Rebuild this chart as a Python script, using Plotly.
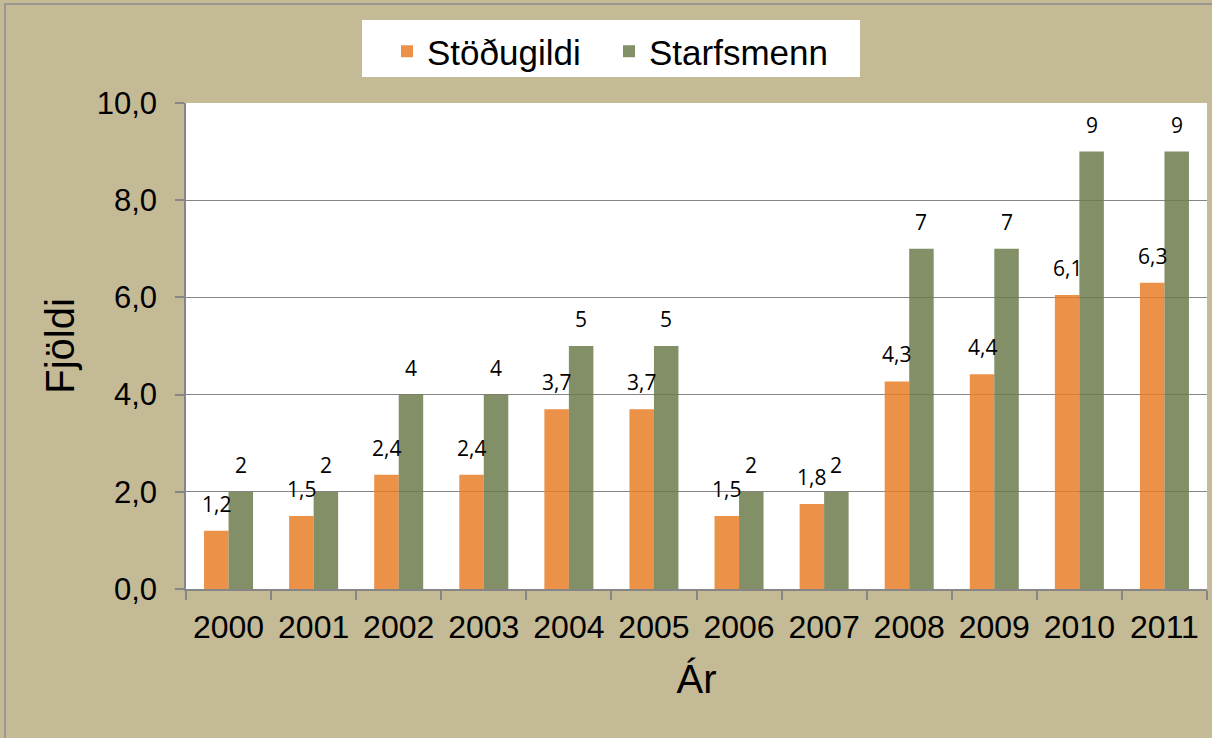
import plotly.graph_objects as go
from decimal import Decimal, ROUND_HALF_UP

# ---- data ----
years = ["2000", "2001", "2002", "2003", "2004", "2005",
         "2006", "2007", "2008", "2009", "2010", "2011"]
stodugildi = [1.2, 1.5, 2.35, 2.35, 3.7, 3.7, 1.5, 1.75, 4.27, 4.42, 6.05, 6.3]
starfsmenn = [2, 2, 4, 4, 5, 5, 2, 2, 7, 7, 9, 9]
y_ticks = [0, 2, 4, 6, 8, 10]

# ---- layout constants ----
W, H = 1212, 738
ML, MR, MT, MB = 186, 5, 103, 149
BARGAP = 0.424
plot_w = W - ML - MR
plot_h = H - MT - MB
bar_px = plot_w / len(years) * (1 - BARGAP) / 2

ORANGE = "rgba(233,126,40,0.85)"
GREEN = "rgba(109,123,75,0.85)"
GRID = "#868686"
BG = "#C4BA96"
AX_FONT = "Liberation Sans, Arial, sans-serif"
LBL_FONT = "Open Sans, sans-serif"


def fmt1(v):
    return str(Decimal(str(v)).quantize(Decimal("0.1"), ROUND_HALF_UP)).replace(".", ",")


fig = go.Figure()
fig.add_trace(go.Bar(name="Stöðugildi", x=years, y=stodugildi,
                     marker=dict(color=ORANGE, line=dict(width=0))))
fig.add_trace(go.Bar(name="Starfsmenn", x=years, y=starfsmenn,
                     marker=dict(color=GREEN, line=dict(width=0))))

annotations = []
for vals, fmt, shift in [(stodugildi, fmt1, -bar_px / 2),
                         (starfsmenn, lambda v: str(v), bar_px / 2)]:
    for i, v in enumerate(vals):
        annotations.append(dict(
            x=i, y=v, xref="x", yref="y", text=fmt(v), showarrow=False,
            xshift=shift, yanchor="bottom", yshift=11,
            font=dict(family=LBL_FONT, size=21, color="black")))

# pixel -> paper helpers for decorations outside the plot area
px = lambda p: (p - ML) / plot_w
py = lambda p: (H - MB - p) / plot_h
shapes = [
    dict(type="rect", xref="paper", yref="paper",
         x0=px(5), x1=px(W + 10), y0=py(H + 10), y1=py(4),
         line=dict(color="#8c8c8c", width=1.5), layer="below"),
    dict(type="rect", xref="paper", yref="paper",
         x0=px(362), x1=px(860), y0=py(77), y1=py(20),
         fillcolor="white", line=dict(width=0), layer="below"),
]

fig.update_layout(
    width=W, height=H,
    margin=dict(l=ML, r=MR, t=MT, b=MB, pad=0, autoexpand=False),
    paper_bgcolor=BG, plot_bgcolor="white",
    barmode="group", bargap=BARGAP, bargroupgap=0,
    separators=",.",
    font=dict(family=AX_FONT, color="black"),
    showlegend=True,
    legend=dict(orientation="h", x=px(609), xanchor="center",
                y=py(22), yanchor="top", bgcolor="rgba(0,0,0,0)",
                font=dict(family=AX_FONT, size=35, color="black"),
                itemwidth=30, entrywidth=177, entrywidthmode="pixels"),
    annotations=annotations,
    shapes=shapes,
)

fig.update_xaxes(
    type="category", tickson="boundaries", ticks="outside", ticklen=9,
    tickcolor=GRID, tickwidth=1.5, showline=True, linecolor=GRID, linewidth=1.5,
    showgrid=False, tickfont=dict(size=32), tickangle=0, ticklabelstandoff=9,
    title=dict(text="Ár", font=dict(size=40), standoff=21),
)
fig.update_yaxes(
    range=[0, 10], tickvals=y_ticks, tickformat=".1f",
    ticks="outside", ticklen=9, tickcolor=GRID, tickwidth=1.5,
    showline=True, linecolor=GRID, linewidth=1.5,
    showgrid=True, gridcolor=GRID, gridwidth=1.2, zeroline=False,
    tickfont=dict(size=31), ticklabelstandoff=12,
    title=dict(text="Fjöldi", font=dict(size=40), standoff=10),
)

fig.write_html("out.html", config={"displayModeBar": False},
               post_script="document.body.style.margin='0';")
